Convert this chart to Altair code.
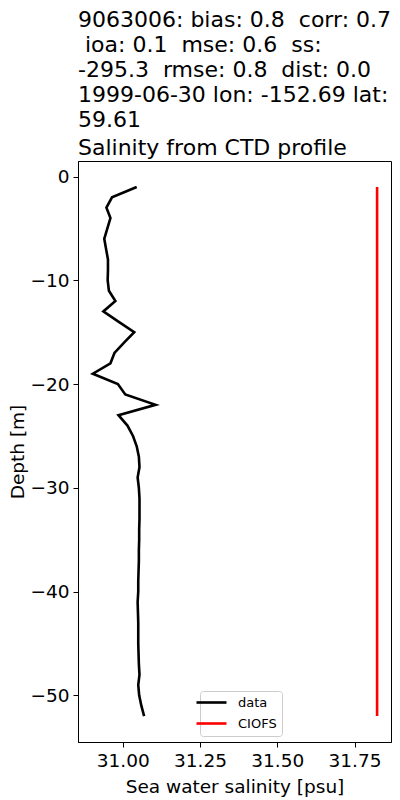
import altair as alt
import pandas as pd

depths = list(range(1, 53))
data_sal = [31.045, 30.965, 30.947, 30.960, 30.950, 30.940, 30.946, 30.952, 30.952, 30.951,
            30.955, 30.976, 30.937, 30.987, 31.037, 31.004, 30.973, 30.960, 30.903, 30.984,
            31.008, 31.106, 30.986, 31.015, 31.033, 31.045, 31.052, 31.054, 31.048, 31.052,
            31.054, 31.054, 31.054, 31.053, 31.053, 31.052, 31.052, 31.051, 31.050, 31.050,
            31.048, 31.049, 31.050, 31.050, 31.050, 31.051, 31.052, 31.054, 31.050, 31.053,
            31.060, 31.069]
ciofs_sal = [31.823] * 52
series_names = ["data", "CIOFS"]
series_colors = ["black", "red"]
x_ticks = [31.00, 31.25, 31.50, 31.75]
y_ticks = [0, -10, -20, -30, -40, -50]

rows = []
for i, d in enumerate(depths):
    rows.append({"depth": -d, "sal": data_sal[i], "series": "data", "idx": i})
for i, d in enumerate(depths):
    rows.append({"depth": -d, "sal": ciofs_sal[i], "series": "CIOFS", "idx": i})
df = pd.DataFrame(rows)

NB = "\u00a0"
ZW = "\u200b"
title_lines = [
    f"9063006: bias: 0.8{NB}{NB}corr: 0.7",
    f"{ZW}{NB}ioa: 0.1{NB}{NB}mse: 0.6{NB}{NB}ss:",
    f"-295.3{NB}{NB}rmse: 0.8{NB}{NB}dist: 0.0",
    "1999-06-30 lon: -152.69 lat:",
    "59.61",
]

FONT = "DejaVu Sans"

chart = alt.Chart(df).mark_line(strokeWidth=2.6, clip=True).encode(
    x=alt.X("sal:Q", scale=alt.Scale(domain=[30.855, 31.868], nice=False, zero=False),
            axis=alt.Axis(values=x_ticks, format=".2f", title="Sea water salinity [psu]")),
    y=alt.Y("depth:Q", scale=alt.Scale(domain=[-54.5, 1.5], nice=False, zero=False),
            axis=alt.Axis(values=y_ticks, format="d", title="Depth [m]")),
    color=alt.Color("series:N", scale=alt.Scale(domain=series_names, range=series_colors),
                    legend=alt.Legend(title=None, orient="none", legendX=122, legendY=530,
                                      symbolType="M-3,0H3", symbolSize=100, symbolStrokeWidth=2.6,
                                      labelFontSize=13, labelFont=FONT, labelOffset=20,
                                      padding=5, rowPadding=7, strokeColor="#cccccc",
                                      fillColor="white", cornerRadius=3)),
    order=alt.Order("idx:Q"),
    detail="series:N",
).properties(
    width=313,
    height=581,
    title=alt.TitleParams(text=title_lines, subtitle="Salinity from CTD profile",
                          anchor="start", frame="group", font=FONT, fontSize=22,
                          fontWeight="normal", color="black", lineHeight=25,
                          subtitleFont=FONT, subtitleFontSize=22, subtitleColor="black",
                          subtitleLineHeight=25, subtitlePadding=6, offset=1.5),
    autosize=alt.AutoSizeParams(type="none"),
    padding={"left": 70, "top": 153, "right": 1, "bottom": 60},
).configure_view(
    stroke="black", strokeWidth=1
).configure_axis(
    labelFont=FONT, titleFont=FONT, labelFontSize=18.5, titleFontSize=18.5,
    titleFontWeight="normal", labelColor="black", titleColor="black",
    domainColor="black", tickColor="black", tickSize=5, grid=False,
    labelPadding=4,
).configure_axisX(titlePadding=8).configure_axisY(titlePadding=2)

chart.save("out.html", embed_options={"renderer": "svg", "actions": False})
